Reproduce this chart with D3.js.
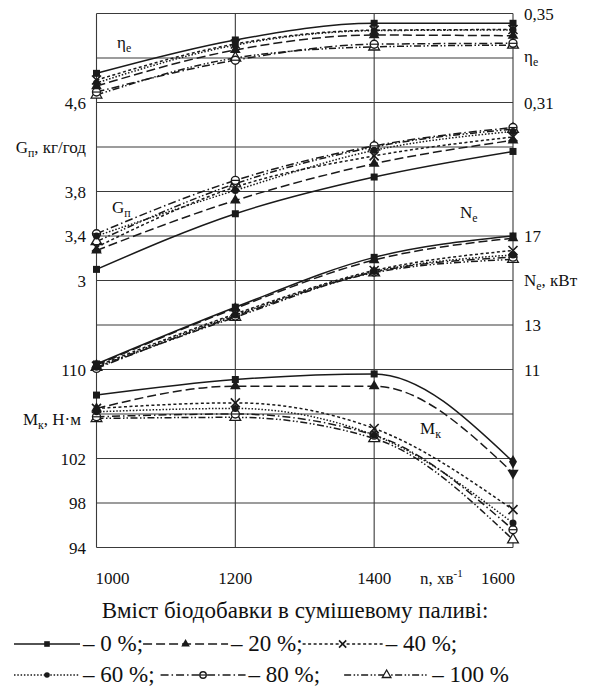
<!DOCTYPE html>
<html>
<head>
<meta charset="utf-8">
<script src="https://cdn.jsdelivr.net/npm/d3@7"></script>
<style>
  body { margin: 0; background: #fff; }
  svg text { font-family: "Liberation Serif", "Times New Roman", Tinos, "Noto Serif", "DejaVu Serif", FreeSerif, serif; fill: #111; }
</style>
</head>
<body>
<div id="chart"></div>
<script>
// data
const nVals = [1000, 1200, 1400, 1600];
const seriesNames = ["0 %", "20 %", "40 %", "60 %", "80 %", "100 %"];

const etaE = [
  [0.3231, 0.3381, 0.3456, 0.3456],
  [0.3174, 0.3336, 0.3403, 0.3400],
  [0.3201, 0.3363, 0.3425, 0.3428],
  [0.3188, 0.3358, 0.3423, 0.3426],
  [0.3147, 0.3290, 0.3362, 0.3366],
  [0.3134, 0.3300, 0.3350, 0.3358]
];
const gFuel = [
  [3.10, 3.60, 3.93, 4.16],
  [3.27, 3.72, 4.05, 4.26],
  [3.30, 3.84, 4.12, 4.29],
  [3.40, 3.81, 4.17, 4.34],
  [3.42, 3.90, 4.21, 4.375],
  [3.35, 3.87, 4.20, 4.36]
];
const nPower = [
  [11.25, 13.80, 16.04, 17.00],
  [11.20, 13.75, 15.92, 16.90],
  [11.15, 13.50, 15.45, 16.35],
  [11.10, 13.45, 15.40, 16.15],
  [11.05, 13.40, 15.38, 16.05],
  [11.10, 13.35, 15.35, 15.95]
];
const mTorque = [
  [107.7, 109.1, 109.6, 101.7],
  [106.5, 108.5, 108.5, 100.7],
  [106.5, 107.0, 104.7, 97.4],
  [106.2, 106.5, 104.1, 96.2],
  [105.75, 106.0, 104.1, 95.6],
  [105.6, 105.7, 103.8, 94.7]
];

const leftTicksG = [3, 3.4, 3.8, 4.6];
const leftTicksM = [94, 98, 102, 110];
const rightTicksEta = [0.31, 0.35];
const rightTicksN = [11, 13, 17];

// layout
const W = 590, H = 691;
const plot = {left: 96.5, right: 513, top: 13.5, bottom: 547.5};
const gridRows = 12;

const svg = d3.select("#chart").append("svg")
    .attr("width", W)
    .attr("height", H);

const x = d3.scaleLinear().domain([1000, 1600]).range([plot.left, plot.right]);
const row = d3.scaleLinear().domain([0, gridRows]).range([plot.top, plot.bottom]);

const yEta = d3.scaleLinear().domain([0.35, 0.31]).range([row(0), row(2)]);
const yG = d3.scaleLinear().domain([4.6, 3]).range([row(2), row(6)]);
const yN = d3.scaleLinear().domain([17, 11]).range([row(5), row(8)]);
const yM = d3.scaleLinear().domain([110, 94]).range([row(8), row(12)]);

const comma = v => String(v).replace(".", ",");

// grid
const grid = svg.append("g").attr("stroke", "#3a3a3a").attr("stroke-width", 1.1);
grid.selectAll("line.h")
  .data(d3.range(gridRows + 1))
  .join("line")
    .attr("x1", plot.left).attr("x2", plot.right)
    .attr("y1", d => row(d)).attr("y2", d => row(d));
grid.selectAll("line.v")
  .data(nVals)
  .join("line")
    .attr("x1", d => x(d)).attr("x2", d => x(d))
    .attr("y1", plot.top).attr("y2", plot.bottom);

// axis labels
const fs = 17;
function label(g, xx, yy, main, sub, rest, anchor, size) {
  const t = g.append("text")
    .attr("x", xx).attr("y", yy)
    .attr("text-anchor", anchor || "start")
    .attr("font-size", size || fs);
  t.append("tspan").text(main);
  if (sub) t.append("tspan").attr("font-size", "0.7em").attr("dy", 4).text(sub);
  if (rest) t.append("tspan").attr("dy", sub ? -4 : 0).text(rest);
  return t;
}

const axisG = svg.append("g");
axisG.selectAll("text.g")
  .data(leftTicksG)
  .join("text")
    .attr("x", 86).attr("y", d => yG(d) + 6)
    .attr("text-anchor", "end").attr("font-size", fs)
    .text(comma);
axisG.selectAll("text.m")
  .data(leftTicksM)
  .join("text")
    .attr("x", 86).attr("y", d => yM(d) + 6)
    .attr("text-anchor", "end").attr("font-size", fs)
    .text(comma);
axisG.selectAll("text.e")
  .data(rightTicksEta)
  .join("text")
    .attr("x", 524).attr("y", d => yEta(d) + 6)
    .attr("font-size", fs)
    .text(comma);
axisG.selectAll("text.n")
  .data(rightTicksN)
  .join("text")
    .attr("x", 524).attr("y", d => yN(d) + 6)
    .attr("font-size", fs)
    .text(comma);

label(axisG, 86, yG(4.2) + 6, "G", "п", ", кг/год", "end");
label(axisG, 81, yM(106) + 11, "M", "к", ", Н·м", "end");
label(axisG, 524, yEta(0.33) + 4, "η", "e", null);
label(axisG, 524, yN(15) + 5, "N", "e", ", кВт");

// inner curve names
label(svg, 117, 48, "η", "e", null);
label(svg, 112, 213, "G", "п", null);
label(svg, 460, 218, "N", "e", null);
label(svg, 420, 434, "M", "к", null);

// x tick labels
const xl = svg.append("g").attr("font-size", fs);
xl.selectAll("text")
  .data(nVals)
  .join("text")
    .attr("x", (d, i) => x(d) + (i === 0 ? -1 : i === nVals.length - 1 ? 2 : 0))
    .attr("y", 584)
    .attr("text-anchor", (d, i) => i === 0 ? "start" : i === nVals.length - 1 ? "end" : "middle")
    .text(d => d);
const nl = xl.append("text").attr("x", 420).attr("y", 584);
nl.append("tspan").text("n, хв");
nl.append("tspan").attr("font-size", "0.65em").attr("dy", -7).text("-1");

// series styles
const dashes = [null, "9,4", "3,2.5", "1.5,1.8", "8,3,1.5,3", "7,2.5,1.5,2,1.5,2.5"];
const stroke = "#1a1a1a";

function marker(g, i, cx, cy, s, shape) {
  s = s || 1;
  if (shape === "diamond") {
    g.append("path").attr("transform", `translate(${cx},${cy})`)
      .attr("d", d3.symbol(d3.symbolDiamond, 55)()).attr("fill", stroke);
  } else if (shape === "down") {
    g.append("path").attr("transform", `translate(${cx},${cy}) rotate(180)`)
      .attr("d", d3.symbol(d3.symbolTriangle, 55)()).attr("fill", stroke);
  } else if (i === 0) {
    g.append("rect").attr("x", cx - 3.5 * s).attr("y", cy - 3.5 * s)
      .attr("width", 7 * s).attr("height", 7 * s).attr("fill", stroke);
  } else if (i === 1) {
    g.append("path").attr("transform", `translate(${cx},${cy})`)
      .attr("d", d3.symbol(d3.symbolTriangle, 50 * s * s)()).attr("fill", stroke);
  } else if (i === 2) {
    const r = 4.5 * s;
    g.append("path")
      .attr("d", `M${cx - r},${cy - r}L${cx + r},${cy + r}M${cx - r},${cy + r}L${cx + r},${cy - r}`)
      .attr("stroke", stroke).attr("stroke-width", 1.6).attr("fill", "none");
  } else if (i === 3) {
    g.append("circle").attr("cx", cx).attr("cy", cy).attr("r", 3.5 * s).attr("fill", stroke);
  } else if (i === 4) {
    g.append("circle").attr("cx", cx).attr("cy", cy).attr("r", 4 * s)
      .attr("fill", "#fff").attr("stroke", stroke).attr("stroke-width", 1.4);
    g.append("line").attr("x1", cx - 4 * s).attr("x2", cx + 4 * s)
      .attr("y1", cy).attr("y2", cy).attr("stroke", stroke).attr("stroke-width", 1.2);
  } else {
    g.append("path").attr("transform", `translate(${cx},${cy})`)
      .attr("d", d3.symbol(d3.symbolTriangle, 50 * s * s)())
      .attr("fill", "#fff").attr("stroke", stroke).attr("stroke-width", 1.3);
  }
}

// the torque panel uses a diamond and a downward triangle at its last point
const groups = [
  {data: etaE, y: yEta, lastShape: []},
  {data: gFuel, y: yG, lastShape: []},
  {data: nPower, y: yN, lastShape: []},
  {data: mTorque, y: yM, lastShape: ["diamond", "down"]}
];

const curves = svg.append("g");
groups.forEach(grp => {
  const line = d3.line()
    .x((d, j) => x(nVals[j]))
    .y(d => grp.y(d))
    .curve(d3.curveMonotoneX);
  curves.append("g").selectAll("path")
    .data(grp.data)
    .join("path")
      .attr("d", d => line(d))
      .attr("fill", "none")
      .attr("stroke", stroke)
      .attr("stroke-width", 1.5)
      .attr("stroke-dasharray", (d, i) => dashes[i]);
});
groups.forEach(grp => {
  const mg = curves.append("g");
  for (let i = grp.data.length - 1; i >= 0; i--) {
    grp.data[i].forEach((v, j) => {
      const shape = j === nVals.length - 1 ? grp.lastShape[i] : null;
      marker(mg, i, x(nVals[j]), grp.y(v), 1, shape);
    });
  }
});

// legend
const lg = svg.append("g").attr("font-size", 23);
lg.append("text").attr("x", 295).attr("y", 618).attr("text-anchor", "middle")
  .text("Вміст біодобавки в сумішевому паливі:");

const legendRows = [[0, 1, 2], [3, 4, 5]];
const rowY = [651, 682];
const sampleW = [[66, 85, 80], [66, 85, 85]];
const gapBefore = [[14, 0, 0], [14, 6, 24]];
legendRows.forEach((r, ri) => {
  let cx = 0;
  r.forEach((si, k) => {
    cx += gapBefore[ri][k];
    const yy = rowY[ri] - 7;
    const w = sampleW[ri][k];
    lg.append("line").attr("x1", cx).attr("x2", cx + w).attr("y1", yy).attr("y2", yy)
      .attr("stroke", stroke).attr("stroke-width", 1.3)
      .attr("stroke-dasharray", dashes[si]);
    marker(lg, si, cx + w / 2, yy, 0.8);
    const t = lg.append("text").attr("x", cx + w + 3).attr("y", rowY[ri])
      .text("– " + seriesNames[si] + (si === 5 ? "" : ";"));
    cx += w + 3 + t.node().getComputedTextLength();
  });
});
</script>
</body>
</html>
